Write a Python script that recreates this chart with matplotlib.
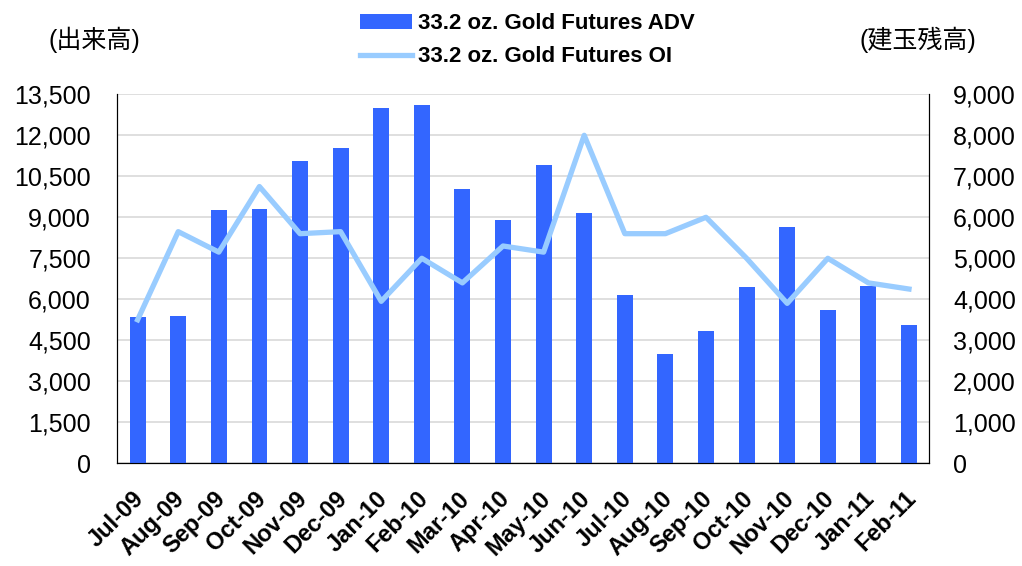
import matplotlib.pyplot as plt
import matplotlib.transforms as mtransforms
import numpy as np

plt.rcParams['font.family'] = ['Liberation Sans', 'Noto Sans CJK JP', 'DejaVu Sans']

months = ['Jul-09', 'Aug-09', 'Sep-09', 'Oct-09', 'Nov-09', 'Dec-09', 'Jan-10',
          'Feb-10', 'Mar-10', 'Apr-10', 'May-10', 'Jun-10', 'Jul-10', 'Aug-10',
          'Sep-10', 'Oct-10', 'Nov-10', 'Dec-10', 'Jan-11', 'Feb-11']
adv = [5350, 5400, 9250, 9300, 11050, 11550, 13000, 13100, 10050, 8900,
       10900, 9150, 6150, 4000, 4850, 6450, 8650, 5600, 6500, 5050]
oi = [3500, 5650, 5150, 6750, 5600, 5650, 3950, 5000, 4400, 5300,
      5150, 8000, 5600, 5600, 6000, 5000, 3900, 5000, 4400, 4250]

left_ticks = np.arange(0, 13501, 1500)
right_ticks = np.arange(0, 9001, 1000)

fig = plt.figure(figsize=(10.22, 5.66), dpi=100)
ax = fig.add_axes([0.1148, 0.1815, 0.7945, 0.6519])
ax2 = ax.twinx()

x = np.arange(len(months))
bars = ax.bar(x, adv, width=0.39, color='#3366FF', zorder=3)
line, = ax2.plot(x, oi, color='#99CCFF', linewidth=3.8, zorder=4)

ax.set_xlim(-0.5, len(months) - 0.5)
ax.set_ylim(0, 13500)
ax2.set_ylim(0, 9000)
ax.set_yticks(left_ticks)
ax.set_yticklabels([f'{v:,}' for v in left_ticks], fontsize=18)
ax2.set_yticks(right_ticks)
ax2.set_yticklabels([f'{v:,}' for v in right_ticks], fontsize=18)
ax.yaxis.grid(True, color='#D9D9D9', linewidth=1.2, zorder=0)
ax.set_axisbelow(True)

ax.set_xticks(x)
ax.set_xticklabels(months, rotation=45, ha='right', va='top', rotation_mode='anchor',
                   fontsize=17, fontweight='bold')
ax.tick_params(axis='x', length=0, pad=17)
ax.tick_params(axis='y', length=0, pad=19)
ax2.tick_params(axis='y', length=0, pad=17)

# nudge the rotated month labels a little to the left
shift = mtransforms.ScaledTranslation(-5 / 100, 0, fig.dpi_scale_trans)
for lab in ax.get_xticklabels():
    lab.set_transform(lab.get_transform() + shift)

for a in (ax, ax2):
    a.spines['top'].set_visible(False)
    a.spines['left'].set_color('black')
    a.spines['right'].set_color('black')
    a.spines['bottom'].set_color('black')

fig.legend([bars, line], ['33.2 oz. Gold Futures ADV', '33.2 oz. Gold Futures OI'],
           loc='upper center', bbox_to_anchor=(0.516, 1.012), frameon=False,
           prop={'size': 16, 'weight': 'bold'}, handlelength=2.35,
           handletextpad=0.3, labelspacing=0.55)

fig.text(0.047, 0.93, '(出来高)', fontsize=18, ha='left', va='center')
fig.text(0.955, 0.93, '(建玉残高)', fontsize=18, ha='right', va='center')

fig.savefig('out.png', dpi=100)
